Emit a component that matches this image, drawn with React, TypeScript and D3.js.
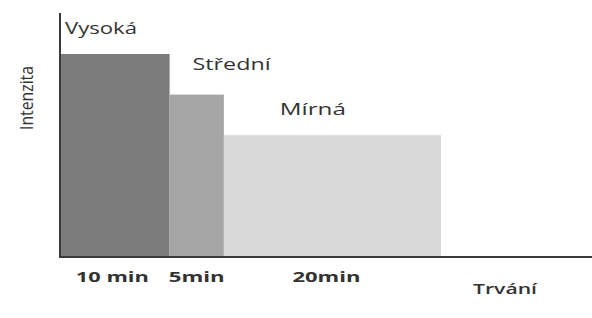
import React, { useEffect, useRef } from "react";
import * as d3 from "d3";

// intensity zones: name, duration in minutes, relative intensity
const zones = ["Vysoká", "Střední", "Mírná"];
const minutes = [10, 5, 20];
const intensity = [100, 80, 60];
const durationLabels = ["10 min", "5min", "20min"];
const colors = ["#7b7b7b", "#a5a5a5", "#d9d9d9"];

const width = 592, height = 318;

function App() {
  const ref = useRef<SVGSVGElement | null>(null);

  useEffect(() => {
    const svg = d3.select(ref.current);
    svg.selectAll("*").remove();

    const origin = { x: 61, y: 257 };
    const x = d3.scaleLinear().domain([0, 35]).range([origin.x, 441]);
    const y = d3.scaleLinear().domain([0, 100]).range([origin.y, 54]);

    const starts = d3.cumsum([0, ...minutes]);
    const font = "'Open Sans', 'DejaVu Sans', sans-serif";

    // bars
    svg.append("g")
      .selectAll("rect")
      .data(zones)
      .enter().append("rect")
      .attr("x", (d, i) => x(starts[i]))
      .attr("width", (d, i) => x(starts[i] + minutes[i]) - x(starts[i]))
      .attr("y", (d, i) => y(intensity[i]))
      .attr("height", (d, i) => y(0) - y(intensity[i]))
      .attr("fill", (d, i) => colors[i]);

    // axes
    svg.append("line")
      .attr("x1", origin.x - 1).attr("x2", origin.x - 1)
      .attr("y1", 13).attr("y2", origin.y + 1)
      .attr("stroke", "#3a3a3a").attr("stroke-width", 2);
    svg.append("line")
      .attr("x1", origin.x - 2).attr("x2", width)
      .attr("y1", origin.y).attr("y2", origin.y)
      .attr("stroke", "#3a3a3a").attr("stroke-width", 2);

    // zone names (the source text is stretched wide)
    const nameOffset = [4, 23, 56];
    const nameRaise = [20, 25, 20];
    const nameWidth = [72, 78, 66];
    svg.append("g")
      .selectAll("text")
      .data(zones)
      .enter().append("text")
      .attr("x", (d, i) => x(starts[i]) + nameOffset[i])
      .attr("y", (d, i) => y(intensity[i]) - nameRaise[i])
      .attr("textLength", (d, i) => nameWidth[i])
      .attr("lengthAdjust", "spacingAndGlyphs")
      .attr("font-family", font)
      .attr("font-size", 16)
      .attr("fill", "#333")
      .text(d => d);

    // duration labels
    const labelShift = [-3, 0, -6];
    const labelWidth = [73, 56, 68];
    svg.append("g")
      .selectAll("text")
      .data(durationLabels)
      .enter().append("text")
      .attr("x", (d, i) => x(starts[i] + minutes[i] / 2) + labelShift[i])
      .attr("y", origin.y + 25)
      .attr("text-anchor", "middle")
      .attr("textLength", (d, i) => labelWidth[i])
      .attr("lengthAdjust", "spacingAndGlyphs")
      .attr("font-family", font)
      .attr("font-size", 15)
      .attr("font-weight", "bold")
      .attr("fill", "#333")
      .text(d => d);

    svg.append("text")
      .attr("x", 505).attr("y", origin.y + 37)
      .attr("text-anchor", "middle")
      .attr("textLength", 64)
      .attr("lengthAdjust", "spacingAndGlyphs")
      .attr("font-family", font)
      .attr("font-size", 15)
      .attr("font-weight", 600)
      .attr("fill", "#333")
      .text("Trvání");

    svg.append("text")
      .attr("transform", "translate(33,98) rotate(-90)")
      .attr("text-anchor", "middle")
      .attr("textLength", 64)
      .attr("lengthAdjust", "spacingAndGlyphs")
      .attr("font-family", font)
      .attr("font-size", 18)
      .attr("fill", "#333")
      .text("Intenzita");
  }, []);

  return (
    <div style={{ position: "absolute", left: 0, top: 0 }}>
      <svg ref={ref} width={width} height={height} style={{ display: "block", background: "#fff" }} />
    </div>
  );
}

export default App;
